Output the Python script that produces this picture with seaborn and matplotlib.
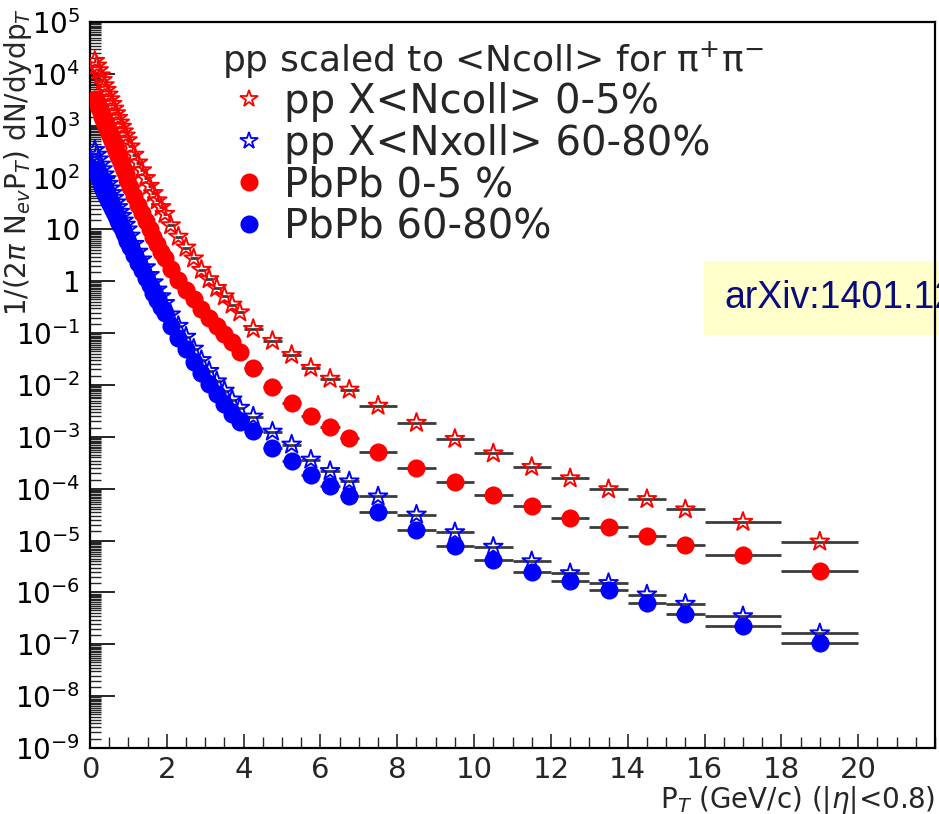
import numpy as np
import pandas as pd
import matplotlib
matplotlib.use("Agg")
import matplotlib.pyplot as plt
import seaborn as sns
from matplotlib.lines import Line2D
from matplotlib.patches import Rectangle
from matplotlib.ticker import FixedLocator, LogLocator, FuncFormatter, MultipleLocator, NullFormatter

# ---------------- data ----------------
pt_center = [0.125, 0.175, 0.225, 0.275, 0.325, 0.375, 0.425, 0.475, 0.525, 0.575,
             0.625, 0.675, 0.725, 0.775, 0.825, 0.875, 0.925, 0.975,
             1.05, 1.15, 1.25, 1.35, 1.45, 1.55, 1.65, 1.75, 1.85, 1.95,
             2.1, 2.3, 2.5, 2.7, 2.9, 3.1, 3.3, 3.5, 3.7, 3.9,
             4.25, 4.75, 5.25, 5.75, 6.25, 6.75,
             7.5, 8.5, 9.5, 10.5, 11.5, 12.5, 13.5, 14.5, 15.5,
             17.0, 19.0]
pt_halfwidth = [0.025] * 18 + [0.05] * 10 + [0.1] * 10 + [0.25] * 6 + [0.5] * 9 + [1.0] * 2

# log10 of 1/(2pi Nev pT) dN/dydpT
log_pp_0_5 = [4.25, 4.16, 4.07, 3.97, 3.88, 3.78, 3.69, 3.60, 3.51, 3.42,
              3.33, 3.24, 3.15, 3.06, 2.98, 2.89, 2.81, 2.72,
              2.60, 2.44, 2.29, 2.14, 1.99, 1.84, 1.70, 1.56, 1.43, 1.30,
              1.08, 0.86, 0.65, 0.44, 0.22, 0.04, -0.13, -0.29, -0.45, -0.60,
              -0.92, -1.15, -1.42, -1.67, -1.88, -2.09,
              -2.40, -2.73, -3.04, -3.32, -3.58, -3.80, -4.01, -4.20, -4.40,
              -4.64, -5.02]
log_pp_60_80 = [2.53, 2.44, 2.35, 2.25, 2.16, 2.06, 1.97, 1.88, 1.79, 1.70,
                1.61, 1.52, 1.43, 1.34, 1.26, 1.17, 1.09, 1.00,
                0.88, 0.72, 0.57, 0.42, 0.27, 0.12, -0.02, -0.16, -0.29, -0.42,
                -0.64, -0.86, -1.07, -1.30, -1.52, -1.73, -1.93, -2.11, -2.28, -2.44,
                -2.61, -2.90, -3.15, -3.44, -3.66, -3.86,
                -4.15, -4.50, -4.84, -5.12, -5.40, -5.63, -5.82, -6.04, -6.22,
                -6.46, -6.79]
log_pbpb_0_5 = [3.52, 3.44, 3.35, 3.26, 3.17, 3.08, 2.98, 2.89, 2.80, 2.70,
                2.61, 2.52, 2.42, 2.33, 2.24, 2.15, 2.06, 1.96,
                1.82, 1.65, 1.48, 1.32, 1.16, 1.00, 0.85, 0.71, 0.57, 0.44,
                0.24, 0.03, -0.16, -0.35, -0.53, -0.70, -0.86, -1.02, -1.18, -1.36,
                -1.68, -2.03, -2.35, -2.60, -2.81, -3.02,
                -3.30, -3.60, -3.88, -4.12, -4.33, -4.57, -4.74, -4.91, -5.08,
                -5.28, -5.58]
log_pbpb_60_80 = [2.15, 2.07, 1.99, 1.90, 1.82, 1.73, 1.65, 1.57, 1.49, 1.41,
                  1.33, 1.25, 1.17, 1.09, 1.02, 0.94, 0.86, 0.78,
                  0.66, 0.51, 0.36, 0.21, 0.07, -0.08, -0.22, -0.36, -0.49, -0.62,
                  -0.86, -1.09, -1.31, -1.55, -1.77, -1.98, -2.18, -2.37, -2.55, -2.71,
                  -2.89, -3.21, -3.47, -3.74, -3.95, -4.15,
                  -4.44, -4.79, -5.10, -5.37, -5.60, -5.77, -5.96, -6.21, -6.41,
                  -6.64, -6.97]

series_labels = ["pp X<Ncoll> 0-5%", "pp X<Nxoll> 60-80%", "PbPb 0-5 %", "PbPb 60-80%"]
header = r"pp scaled to <Ncoll> for $\mathrm{\pi^{+}\pi^{-}}$"

frames = []
for lab, arr in zip(series_labels, [log_pp_0_5, log_pp_60_80, log_pbpb_0_5, log_pbpb_60_80]):
    frames.append(pd.DataFrame({"series": lab, "pt": pt_center, "xerr": pt_halfwidth,
                                "yield": np.power(10.0, arr)}))
df = pd.concat(frames, ignore_index=True)

styles = {
    series_labels[0]: dict(color="#ff0000", marker="*", s=200, open=True),
    series_labels[1]: dict(color="#0000ff", marker="*", s=200, open=True),
    series_labels[2]: dict(color="#ff0000", marker="o", s=170, open=False),
    series_labels[3]: dict(color="#0000ff", marker="o", s=170, open=False),
}

# ---------------- figure ----------------
sns.set_theme(style="ticks")
plt.rcParams["font.family"] = ["DejaVu Sans"]
plt.rcParams["axes.linewidth"] = 1.6

W, H = 939, 814
fig = plt.figure(figsize=(W / 100, H / 100), dpi=100)
fig.patch.set_facecolor("white")
ax = fig.add_axes([90 / W, (H - 748) / H, (935 - 90) / W, (748 - 22) / H])
ax.set_facecolor("white")
ax.set_yscale("log")

z = 3
for lab in series_labels:
    st = styles[lab]
    sub = df[df["series"] == lab]
    ax.errorbar(sub["pt"], sub["yield"], xerr=sub["xerr"], fmt="none",
                ecolor="#3c3c3c", elinewidth=2.0, capsize=0, zorder=z)
    sns.scatterplot(data=sub, x="pt", y="yield", marker=st["marker"], s=st["s"],
                    color=st["color"], edgecolor=st["color"],
                    linewidth=1.4 if st["open"] else 0, ax=ax, legend=False, zorder=z + 1)
    if st["open"]:
        ax.collections[-1].set_facecolor("none")
    z += 2

ax.set_xlim(0, 22)
ax.set_ylim(1e-9, 1e5)

ax.xaxis.set_major_locator(FixedLocator(list(range(0, 21, 2))))
ax.xaxis.set_minor_locator(MultipleLocator(0.5))
ax.yaxis.set_major_locator(LogLocator(base=10, numticks=30))
ax.yaxis.set_minor_locator(LogLocator(base=10, subs=np.arange(1.5, 10, 0.5), numticks=300))
ax.yaxis.set_minor_formatter(NullFormatter())


def yfmt(v, pos):
    e = int(round(np.log10(v)))
    if e == 0:
        return "1"
    if e == 1:
        return "10"
    return r"$10^{%d}$" % e


ax.yaxis.set_major_formatter(FuncFormatter(yfmt))

ax.tick_params(axis="y", which="major", direction="in", length=18, width=1.2,
               labelsize=20, pad=7, colors="black", right=False)
ax.tick_params(axis="y", which="minor", direction="in", length=8, width=1.0, right=False)
ax.tick_params(axis="x", which="major", direction="in", length=10, width=1.2,
               labelsize=21, pad=6, top=False)
ax.tick_params(axis="x", which="minor", direction="in", length=8, width=1.0, top=False)
for sp in ax.spines.values():
    sp.set_visible(True)
    sp.set_color("black")
    sp.set_linewidth(1.6)

ax.set_ylabel(r"1/(2$\pi$ N$_{ev}$P$_{T}$) dN/dydp$_{T}$", fontsize=20, loc="top")
ax.yaxis.set_label_coords(-0.066, 1.019)
ax.set_xlabel(r"P$_{T}$ (GeV/c) (|$\eta$|<0.8)", fontsize=20, loc="right")
ax.xaxis.label.set_va("baseline")
ax.xaxis.set_label_coords(1.0, -(807 - 748) / 726)

# legend header and entries
fig.text(222 / W, 1 - 71 / H, header, ha="left", va="baseline", fontsize=26)
handles = []
for lab in series_labels:
    st = styles[lab]
    handles.append(Line2D([], [], ls="none", marker=st["marker"], markersize=13,
                          markerfacecolor="none" if st["open"] else st["color"],
                          markeredgecolor=st["color"], markeredgewidth=1.3 if st["open"] else 0,
                          label=lab))
leg = ax.legend(handles=handles, loc="upper left",
                bbox_to_anchor=(222 / W, 1 - 82 / H), bbox_transform=fig.transFigure,
                frameon=False, fontsize=29, borderpad=0, borderaxespad=0,
                handlelength=1.35, handletextpad=0.2, labelspacing=0.04)

# arXiv tag box
ax.add_patch(Rectangle((704 / W, 1 - 335 / H), (W - 704) / W, 74 / H,
                       transform=fig.transFigure, facecolor="#ffffcc", edgecolor="none",
                       clip_on=False, zorder=1))
ax.text(724 / W, 1 - 298 / H, "arXiv:1401.1250", transform=fig.transFigure,
        ha="left", va="center", fontsize=27, color="#0b0b80",
        family=["Liberation Sans", "DejaVu Sans"], clip_on=False, zorder=2)

fig.savefig("out.png", dpi=100)
